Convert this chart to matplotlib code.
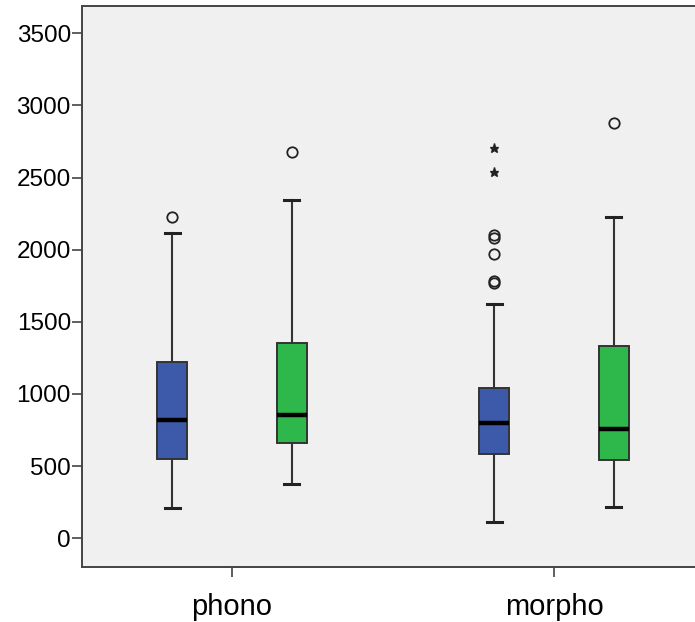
import matplotlib
matplotlib.use("Agg")
import matplotlib.pyplot as plt

plt.rcParams['font.family'] = ['Liberation Sans', 'DejaVu Sans']

# Categories and the two clustered series (five-number summaries + outliers)
categories = ["phono", "morpho"]
series_colors = ["#3D5AAA", "#2EB84B"]

# per series: [phono, morpho]
whislo = [[208, 115], [374, 219]]
q1 = [[550, 582], [658, 543]]
med = [[818, 797], [855, 758]]
q3 = [[1220, 1040], [1356, 1333]]
whishi = [[2116, 1624], [2345, 2225]]
outliers = [[[2229], [1770, 1785, 1968, 2080, 2105]], [[2677], [2876]]]
extremes = [[[], [2536, 2703]], [[], []]]

yticks = [0, 500, 1000, 1500, 2000, 2500, 3000, 3500]

fig = plt.figure(figsize=(6.95, 6.22), dpi=100)
ax = fig.add_axes([82 / 695, 1 - 567 / 622, (704 - 82) / 695, (567 - 6) / 622])
ax.set_facecolor("#F0F0F0")

offset = 0.185
width = 0.093
for s in range(2):
    stats = []
    positions = []
    for c in range(len(categories)):
        stats.append(dict(whislo=whislo[s][c], q1=q1[s][c], med=med[s][c],
                          q3=q3[s][c], whishi=whishi[s][c], fliers=[]))
        positions.append(c + (offset if s else -offset))
    ax.bxp(stats, positions=positions, widths=width, patch_artist=True,
           showfliers=False,
           boxprops=dict(facecolor=series_colors[s], edgecolor="#333333", linewidth=1.4),
           medianprops=dict(color="black", linewidth=3.2),
           whiskerprops=dict(color="#333333", linewidth=1.5),
           capprops=dict(color="#222222", linewidth=2.2),
           capwidths=0.047)
    for c in range(len(categories)):
        x = c + (offset if s else -offset)
        if outliers[s][c]:
            ax.plot([x] * len(outliers[s][c]), outliers[s][c], linestyle="none",
                    marker="o", markersize=7.5, markerfacecolor="none",
                    markeredgecolor="#222222", markeredgewidth=1.3)
        if extremes[s][c]:
            ax.plot([x] * len(extremes[s][c]), extremes[s][c], linestyle="none",
                    marker="*", markersize=6.5, color="#222222")

ax.set_xlim(-0.466, 1.466)
ax.set_ylim(-199, 3689)
ax.set_xticks(range(len(categories)))
ax.set_xticklabels(categories, fontsize=21)
ax.set_yticks(yticks)
ax.set_yticklabels([str(v) for v in yticks], fontsize=17.5)
ax.tick_params(axis="y", length=7, width=1.2, color="#444444", pad=1)
ax.tick_params(axis="x", length=7, width=1.2, color="#444444", pad=12)
for side in ["left", "top", "bottom", "right"]:
    ax.spines[side].set_color("#444444")
    ax.spines[side].set_linewidth(1.4)

fig.savefig("out.png", dpi=100, facecolor="white")
